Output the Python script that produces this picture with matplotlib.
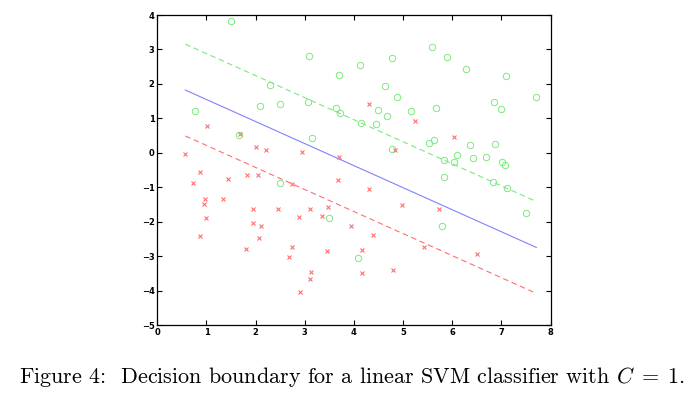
import matplotlib
matplotlib.use("Agg")
import matplotlib.pyplot as plt
import numpy as np

# class +1 (green circles)
pos_x = [1.49, 0.77, 2.29, 2.08, 2.49, 3.08, 3.06, 3.70, 3.63, 3.72, 1.67, 3.14,
         4.12, 4.77, 5.58, 5.89, 6.29, 7.10, 4.64, 4.88, 7.71, 6.85, 6.99, 4.49,
         4.67, 5.17, 5.66, 4.15, 4.45, 5.53, 5.63, 6.37, 6.86, 4.78, 6.10, 5.83,
         6.04, 6.43, 6.68, 7.01, 7.08, 5.83, 6.82, 7.12, 7.51, 5.80, 4.08, 2.50,
         3.49]
pos_y = [3.82, 1.20, 1.96, 1.36, 1.42, 2.80, 1.48, 2.26, 1.31, 1.15, 0.51, 0.43,
         2.54, 2.75, 3.07, 2.78, 2.42, 2.22, 1.95, 1.61, 1.61, 1.47, 1.26, 1.23,
         1.07, 1.20, 1.30, 0.86, 0.84, 0.29, 0.37, 0.23, 0.25, 0.10, -0.05, -0.22,
         -0.26, -0.16, -0.13, -0.26, -0.36, -0.70, -0.85, -1.03, -1.76, -2.12,
         -3.05, -0.87, -1.90]

# class -1 (red crosses)
neg_x = [0.57, 1.01, 1.68, 2.01, 2.21, 2.95, 3.70, 4.31, 5.25, 4.83, 6.04,
         4.31, 4.98, 5.74, 3.94, 4.38, 4.17, 5.43, 6.50, 4.17, 4.80,
         0.87, 0.72, 1.43, 1.82, 2.05, 2.74, 3.67, 0.97, 0.94, 1.34, 1.94,
         2.46, 3.11, 3.48, 3.36, 0.99, 1.95, 2.11, 2.88, 0.87, 2.07, 1.80,
         2.75, 2.68, 3.46, 3.13, 3.10, 2.91]
neg_y = [-0.03, 0.78, 0.55, 0.16, 0.07, 0.01, -0.11, 1.41, 0.91, 0.07, 0.45,
         -1.06, -1.52, -1.64, -2.13, -2.40, -2.83, -2.73, -2.93, -3.48, -3.40,
         -0.55, -0.87, -0.77, -0.64, -0.64, -0.92, -0.79, -1.34, -1.49, -1.34,
         -1.64, -1.62, -1.64, -1.56, -1.83, -1.90, -2.05, -2.14, -1.86, -2.43,
         -2.48, -2.79, -2.73, -3.04, -2.84, -3.47, -3.66, -4.04]

# linear SVM: w . x + b = 0
w = [0.48, 0.75]
b = -1.64

plt.rcParams['lines.scale_dashes'] = False
plt.rcParams['mathtext.fontset'] = 'cm'

fig = plt.figure(figsize=(6.94, 3.95), dpi=100)
ax = fig.add_axes([0.2267, 0.1772, 0.5666, 0.7848])

ax.plot(pos_x, pos_y, 'o', mfc='none', mec='#7de87d', ms=4.6, mew=0.7)
ax.plot(neg_x, neg_y, 'x', color='#ff6f6f', ms=3.2, mew=0.8)

# boundary and margins over the data's x range
xs = np.array([min(pos_x + neg_x), max(pos_x + neg_x)])
for off, col, ls in [(0, '#8080ff', '-'), (1, '#7de87d', (0, (4, 2.6))),
                     (-1, '#ff6f6f', (0, (4, 2.6)))]:
    ys = (off - b - w[0] * xs) / w[1]
    ax.plot(xs, ys, color=col, linestyle=ls, linewidth=0.8)

ax.set_xlim(0, 8)
ax.set_ylim(-5, 4)
ax.set_xticks(range(0, 9))
ax.set_yticks(range(-5, 5))
ax.tick_params(direction='in', length=3.5, width=0.8, top=True, right=True,
               labelsize=6, pad=2)
for lbl in ax.get_xticklabels() + ax.get_yticklabels():
    lbl.set_fontweight('bold')
for sp in ax.spines.values():
    sp.set_linewidth(0.9)

fig.text(0.5065, 0.0304,
         r"Figure 4:  Decision boundary for a linear SVM classifier with $C\;=\;1$.",
         ha='center', va='baseline', fontsize=15.9, family='cmr10')

fig.savefig("out.png", dpi=100)
